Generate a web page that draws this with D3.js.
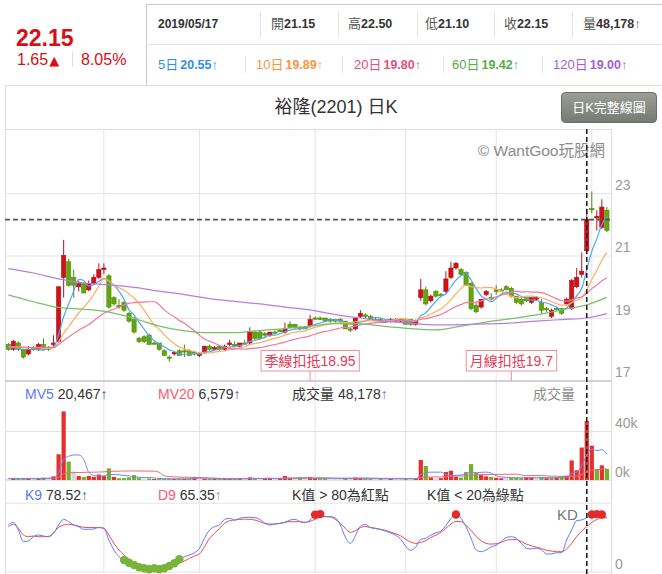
<!DOCTYPE html>
<html>
<head>
<meta charset="utf-8">
<script src="https://cdn.jsdelivr.net/npm/d3@7"></script>
<style>
  body { margin: 0; background: #fff; }
  svg text { font-family: "Liberation Sans", Arial, "Noto Sans CJK TC", sans-serif; }
</style>
</head>
<body>
<svg id="chart" width="662" height="574"></svg>
<script>
// ---- data (120 trading days, last hovered day = index 115) ----
let openP = [18.15,18.00,18.20,18.00,17.85,18.05,18.00,18.15,18.05,18.15,
  18.25,20.30,20.80,20.30,20.00,20.10,19.90,20.10,20.30,20.55,
  20.35,19.65,19.40,19.50,19.15,18.95,18.35,18.40,18.45,18.20,
  18.20,17.95,17.75,17.85,17.95,17.95,17.95,17.90,17.80,17.90,
  18.10,18.00,18.10,18.00,18.15,18.15,18.10,18.20,18.20,18.55,
  18.55,18.50,18.45,18.55,18.60,18.55,18.80,18.80,18.70,18.70,
  18.75,19.00,19.00,19.00,18.95,18.95,18.95,18.90,18.65,18.65,
  19.05,19.10,19.05,18.95,18.95,18.90,18.90,18.90,18.90,18.95,
  18.95,18.80,19.65,19.90,19.55,19.85,19.75,19.85,20.30,20.60,
  20.55,20.45,20.10,19.40,19.35,19.75,19.65,19.90,19.90,20.00,
  19.95,19.70,19.60,19.65,19.50,19.60,19.50,19.30,19.05,19.30,
  19.30,19.45,19.30,20.00,20.40,21.15,22.50,22.20,21.90,22.45]
let highP = [18.20,18.30,18.25,18.00,18.10,18.10,18.20,18.35,18.10,18.45,
  20.00,21.50,20.90,20.55,20.20,20.15,20.20,20.40,20.75,20.75,
  20.40,19.70,19.60,19.55,19.20,19.05,18.40,18.45,18.50,18.25,
  18.20,18.00,17.80,17.95,18.00,18.15,18.00,17.95,17.90,18.10,
  18.15,18.10,18.10,18.15,18.30,18.25,18.20,18.30,18.70,18.60,
  18.60,18.55,18.55,18.60,18.65,18.85,18.90,18.80,18.75,18.75,
  19.10,19.05,19.05,19.00,19.00,18.95,19.00,18.90,18.70,19.00,
  19.25,19.15,19.10,19.00,19.00,18.95,19.00,19.00,19.00,19.00,
  18.95,18.95,20.25,20.00,19.75,19.90,19.80,20.50,20.80,20.80,
  20.60,20.50,20.15,19.50,19.60,19.90,19.80,20.05,19.95,20.05,
  20.00,19.70,19.65,19.65,19.65,19.70,19.60,19.35,19.30,19.35,
  19.30,19.65,20.25,20.60,21.10,22.50,23.05,22.45,22.80,22.55]
let lowP = [17.95,17.95,17.95,17.70,17.80,17.95,17.95,17.95,17.95,18.05,
  18.20,19.65,20.00,19.65,19.85,19.80,19.85,20.05,20.25,20.40,
  19.30,19.40,19.30,19.20,18.85,18.50,18.20,18.20,18.15,18.15,
  17.95,17.80,17.60,17.80,17.80,17.75,17.80,17.80,17.75,17.85,
  17.95,17.95,17.95,17.95,18.10,18.05,18.05,18.15,18.15,18.30,
  18.30,18.40,18.40,18.50,18.55,18.50,18.70,18.65,18.60,18.65,
  18.70,18.95,18.95,18.90,18.85,18.85,18.85,18.65,18.55,18.60,
  19.00,19.00,18.95,18.90,18.85,18.85,18.85,18.85,18.85,18.80,
  18.75,18.75,19.55,19.40,19.50,19.65,19.65,19.80,20.25,20.55,
  20.35,20.05,19.25,19.15,19.30,19.70,19.55,19.75,19.85,19.90,
  19.65,19.45,19.40,19.50,19.45,19.55,19.15,19.20,19.00,19.25,
  19.10,19.40,19.25,19.95,20.30,21.10,22.35,21.80,21.85,21.75]
let closeP = [18.00,18.25,18.00,17.75,18.00,18.00,18.15,18.00,18.00,18.20,
  20.00,21.00,20.05,20.05,20.10,19.80,20.10,20.30,20.55,20.60,
  19.35,19.45,19.35,19.25,18.90,18.55,18.25,18.25,18.15,18.20,
  18.00,17.80,17.75,17.90,17.80,17.95,17.80,17.85,17.85,18.10,
  18.00,18.05,18.00,18.10,18.20,18.10,18.20,18.20,18.55,18.35,
  18.35,18.45,18.55,18.55,18.60,18.65,18.70,18.70,18.65,18.65,
  18.95,19.00,18.95,18.90,18.90,18.90,18.90,18.65,18.65,19.00,
  19.15,19.05,18.95,18.95,18.90,18.90,18.95,18.95,18.95,18.80,
  18.80,18.90,19.90,19.45,19.70,19.70,19.75,20.25,20.60,20.75,
  20.40,20.05,19.30,19.20,19.60,19.85,19.65,19.85,19.90,19.90,
  19.70,19.50,19.45,19.55,19.65,19.65,19.25,19.30,19.25,19.30,
  19.15,19.60,20.20,20.30,20.50,22.15,22.50,22.25,22.55,21.80]

let ma5 = [18.05,18.05,18.03,18.00,18.00,18.00,17.98,17.98,18.03,18.07,
  18.47,19.04,19.45,19.86,20.24,20.20,20.02,20.07,20.17,20.27,
  20.18,20.05,19.86,19.60,19.26,19.10,18.86,18.64,18.42,18.28,
  18.17,18.08,17.98,17.93,17.85,17.84,17.84,17.86,17.85,17.91,
  17.92,17.97,18.00,18.05,18.07,18.09,18.12,18.16,18.25,18.28,
  18.33,18.38,18.45,18.45,18.50,18.56,18.61,18.64,18.66,18.67,
  18.73,18.79,18.84,18.89,18.94,18.93,18.91,18.85,18.80,18.82,
  18.87,18.90,18.96,19.02,19.00,18.95,18.93,18.93,18.93,18.91,
  18.89,18.88,19.07,19.17,19.35,19.53,19.70,19.77,20.00,20.21,
  20.35,20.41,20.22,19.94,19.71,19.60,19.52,19.63,19.77,19.83,
  19.80,19.77,19.69,19.62,19.57,19.56,19.51,19.48,19.42,19.35,
  19.25,19.32,19.50,19.71,19.95,20.55,21.13,21.54,21.99,22.25]
let ma10 = [18.08,18.08,18.07,18.06,18.05,18.05,18.04,18.03,18.03,18.04,
  18.24,18.51,18.72,18.95,19.16,19.34,19.53,19.76,20.02,20.26,
  20.19,20.04,19.97,19.89,19.77,19.64,19.46,19.25,19.01,18.77,
  18.64,18.47,18.31,18.18,18.07,18.01,17.96,17.92,17.89,17.88,
  17.88,17.91,17.93,17.95,17.99,18.01,18.05,18.08,18.15,18.18,
  18.21,18.25,18.31,18.35,18.39,18.45,18.50,18.55,18.56,18.59,
  18.65,18.70,18.74,18.78,18.81,18.83,18.85,18.85,18.85,18.88,
  18.90,18.91,18.91,18.91,18.91,18.91,18.92,18.95,18.98,18.96,
  18.92,18.91,19.00,19.05,19.13,19.21,19.29,19.42,19.59,19.78,
  19.94,20.06,20.00,19.97,19.96,19.98,19.97,19.93,19.86,19.77,
  19.70,19.65,19.66,19.70,19.70,19.68,19.64,19.59,19.52,19.46,
  19.41,19.42,19.49,19.57,19.65,19.90,20.23,20.52,20.85,21.10]
let ma20 = [18.08,18.08,18.07,18.07,18.06,18.06,18.06,18.06,18.06,18.06,
  18.15,18.28,18.39,18.50,18.61,18.70,18.79,18.91,19.04,19.15,
  19.22,19.28,19.35,19.42,19.47,19.49,19.50,19.51,19.52,19.52,
  19.42,19.26,19.14,19.04,18.92,18.83,18.71,18.59,18.45,18.33,
  18.26,18.19,18.12,18.07,18.03,18.01,18.01,18.00,18.02,18.03,
  18.05,18.08,18.12,18.15,18.19,18.23,18.28,18.32,18.36,18.39,
  18.43,18.48,18.53,18.57,18.60,18.64,18.68,18.70,18.71,18.74,
  18.78,18.81,18.83,18.85,18.86,18.87,18.89,18.90,18.92,18.92,
  18.91,18.91,18.96,18.98,19.02,19.06,19.11,19.19,19.29,19.37,
  19.43,19.49,19.50,19.51,19.55,19.60,19.63,19.68,19.73,19.78,
  19.82,19.86,19.83,19.84,19.83,19.83,19.81,19.76,19.69,19.62,
  19.56,19.54,19.58,19.64,19.68,19.79,19.94,20.06,20.19,20.28]
// [day index, value]
let ma60 = [[0,19.74],[5,19.52],[10,19.34],[15,19.28],[20,19.19],[25,18.99],[30,18.74],
  [35,18.59],[40,18.53],[45,18.53],[50,18.60],[55,18.66],[60,18.74],[65,18.82],[70,18.81],
  [75,18.73],[80,18.66],[85,18.62],[90,18.74],[95,18.87],[100,18.98],[105,19.10],[110,19.26],
  [115,19.42],[119,19.66]]
let ma120 = [[0,20.58],[5,20.44],[10,20.25],[15,20.12],[20,20.06],[25,19.98],[30,19.86],
  [35,19.75],[40,19.62],[45,19.53],[50,19.45],[55,19.35],[60,19.26],[65,19.11],[70,19.00],
  [75,18.90],[80,18.83],[85,18.78],[90,18.79],[95,18.81],[100,18.84],[105,18.90],[110,18.95],
  [115,19.00],[119,19.14]]

let volume = [1000,1500,1000,1200,1000,800,1000,2000,2000,3000,
  21000,56000,15000,7000,3300,2500,3300,2500,4500,3300,
  9500,2500,1500,1500,2200,4000,1500,1200,1200,800,
  1200,1000,1000,800,1000,1000,1200,2500,2000,1000,
  1000,800,800,800,1000,1500,800,1200,2200,1200,
  1000,1500,1500,1000,1000,3300,1500,1200,2000,1500,
  2500,1500,1500,1500,1200,1000,1000,1500,1200,2000,
  1500,1000,1000,1000,1000,1000,1000,1000,1000,1000,
  1000,1200,16300,11400,2000,1000,1500,6500,7600,2700,
  2000,6500,13000,5700,4000,3000,2500,1800,1500,2000,
  2000,2000,1500,2500,2000,1500,2500,1500,2000,2000,
  3000,3500,16000,8000,26500,48178,28000,9000,12000,9000]
let mv5 = [1300,1300,1250,1200,1140,1100,1000,1200,1360,1760,
  5800,16800,19400,20400,20460,16760,6220,3720,3220,3220,
  4620,4460,4260,3660,3440,2340,2140,2080,2020,1740,
  1180,1080,1040,960,1000,960,1000,1300,1540,1540,
  1540,1460,1120,880,880,980,980,1060,1340,1380,
  1280,1420,1480,1240,1200,1660,1660,1600,1800,1900,
  1740,1740,1800,1700,1640,1340,1240,1240,1180,1340,
  1440,1440,1340,1300,1100,1000,1000,1000,1000,1000,
  1000,1040,4100,6180,6380,6380,6440,4480,3720,3860,
  4060,5060,6360,5980,6240,6440,5640,3400,2560,2160,
  1960,1860,1800,2000,2000,1900,2000,2000,1900,1900,
  2200,2400,5300,6500,11400,20467,25340,23940,24740,21240]
let mv20 = [[0,1190],[9,1330],[10,2300],[11,5060],[12,5750],[13,6040],[16,6310],[19,6650],
  [20,7070],[25,7380],[29,7220],[30,6230],[31,3480],[32,2780],[35,2280],[39,1930],[40,1500],
  [45,1170],[50,1190],[55,1370],[60,1420],[65,1500],[70,1550],[75,1380],[81,1180],[82,1920],
  [83,2420],[86,2480],[88,3050],[91,3390],[92,3990],[95,4470],[101,4750],[102,4010],[103,3570],
  [106,3640],[108,3110],[111,2980],[113,3240],[114,4370],[115,6579],[116,7900],[117,8260],
  [118,8780],[119,9130]]

let kVal = [67.7,71.6,60.4,43.5,44.5,50.7,53.2,51.7,50.7,55.6,
  67.7,75.9,72.5,67.7,65.2,61.4,61.4,62,64.3,63,
  45.9,31.4,21.7,17,13,9.7,6.4,4.9,3.5,4.9,
  3.5,4.9,8.3,12.2,18,21.7,24.2,27.5,33.9,48.4,
  60.4,65.2,67.7,75.9,77.4,74.9,77.4,78.8,78.8,78.4,
  75.9,70.1,67.7,69.1,70.1,71.6,74.9,75.9,72.5,71,
  75,82.5,83.5,79.8,79.7,78,68,50,41,52,
  66,68.5,64,62.5,61,59,56,53,47,37,
  31,36,47,48.5,53,56.5,59,67,77,83,
  77.5,65,48.5,31.5,29,31.5,36,38.5,43.5,49.5,
  50.7,48.5,41,34,33,34,31.5,25.7,25.7,27.5,
  27.5,46,60.4,74,75,78.52,83,83.5,83,78]
let dVal = [65.2,68.7,63,53.2,50.7,51.7,50.7,50.7,51.2,56.6,
  64.3,67.7,68.7,67.7,66,64.3,64,64,63.8,62.8,
  53.2,41.1,31.4,24.2,18,13,9.7,7.3,6,4.9,
  4.5,4.9,5.8,8.3,12.2,15.5,19.4,22.8,25.7,36.2,
  48.4,55.6,63,70.1,73.9,74.9,75.9,76.2,75.9,74.9,
  72.5,70.1,69.1,69.1,70.1,71.6,72.5,72.5,72.5,71.6,
  73,76,79,80,79.5,76,70,63,57,59.5,
  64,65.5,64,63,61.5,60,57.5,55,52,47,
  43,41,42.5,45,49.5,53,57,63,69,73,
  72.5,67,60,51,45,41,40,40.5,42.5,45.5,
  46.5,46.5,43.5,40,37.5,35.5,33.5,31,30,29,
  29,33,41,51,59,65.35,71.5,75.5,78,78]

let priceTicks = [17, 19, 21, 23]
let volTicks = [0, 40000]
let kdTicks = [0, 100]
let gridDays = [19, 38, 61, 79, 97, 116]
let hoverDay = 115
let deductions = [{ day: 60, label: '季線扣抵18.95' }, { day: 100, label: '月線扣抵19.7' }]

let quoteDate = '2019/05/17'
let quoteLabels = ['開', '高', '低', '收', '量']
let quoteValues = ['21.15', '22.50', '21.10', '22.15', '48,178']
let maLabels = ['5日', '10日', '20日', '60日', '120日']
let maValues = ['20.55', '19.89', '19.80', '19.42', '19.00']
// ---------------------------------------------------------------------

let red = '#d60f16', green = '#62a60c'
let maText = ['#2f8fe8', '#f7963c', '#ea4d7b', '#55ad45', '#a45dd8']
let maLine = ['#4fa6f0', '#fdae5c', '#f2769e', '#78c16a', '#b67de2']
let gridColor = '#e4e4e4'

const svg = d3.select('#chart')
const n = closeP.length
const plotLeft = 5, plotRight = 611
const plotTop = 129, mainBottom = 381

let x = d3.scaleBand()
    .domain(d3.range(n))
    .range([5.8, 609.4])
    .paddingInner(0.16)
    .paddingOuter(0.08)
let cx = i => x(i) + x.bandwidth() / 2

let y = d3.scaleLinear().domain([17, 23]).range([380.5, 193])
let yv = d3.scaleLinear().domain([0, 40000]).range([480, 431])
let yk = d3.scaleLinear().domain([0, 100]).range([571.7, 502.7])

// ---------- header ----------
let head = svg.append('g')
head.append('line').attr('x1', 146).attr('x2', 662).attr('y1', 4.5).attr('y2', 4.5).attr('stroke', '#c8c8c8')
head.append('line').attr('x1', 146.5).attr('x2', 146.5).attr('y1', 4.5).attr('y2', 85).attr('stroke', '#c8c8c8')
head.append('line').attr('x1', 146).attr('x2', 662).attr('y1', 44.5).attr('y2', 44.5).attr('stroke', '#e6e6e6')

head.append('text').attr('x', 16).attr('y', 46)
    .attr('fill', red).style('font-size', '23px').style('font-weight', 'bold').text('22.15')
let chg = head.append('text').attr('x', 17).attr('y', 65).attr('fill', red).style('font-size', '16px')
chg.append('tspan').text('1.65')
chg.append('tspan').style('font-family', 'DejaVu Sans').style('font-size', '13px').attr('dx', 1).text('▲')
head.append('line').attr('x1', 72.5).attr('x2', 72.5).attr('y1', 52).attr('y2', 67).attr('stroke', '#ddd')
head.append('text').attr('x', 81).attr('y', 65).attr('fill', red).style('font-size', '16px').text('8.05%')

let quoteX = [271, 348, 425, 504, 583]
head.append('text').attr('x', 158).attr('y', 28).attr('fill', '#333')
    .style('font-size', '12px').style('font-weight', 'bold').text(quoteDate)
quoteLabels.forEach((lab, k) => {
  let t = head.append('text').attr('x', quoteX[k]).attr('y', 28).attr('fill', '#333')
  t.append('tspan').style('font-size', '13px').attr('fill', '#555').text(lab)
  t.append('tspan').style('font-size', '12.5px').style('font-weight', 'bold').text(quoteValues[k])
  if (lab === '量') t.append('tspan').style('font-size', '13px').attr('fill', '#5a63c8').text('↑')
})
for (let sx of [260, 338, 417, 494, 572])
  head.append('line').attr('x1', sx + 0.5).attr('x2', sx + 0.5).attr('y1', 12).attr('y2', 37).attr('stroke', '#e3e3e3')

let maX = [158, 256, 354, 452, 553]
maLabels.forEach((lab, k) => {
  let t = head.append('text').attr('x', maX[k]).attr('y', 68.5).attr('fill', maText[k])
  t.append('tspan').style('font-size', '13px').text(lab)
  t.append('tspan').style('font-size', '12.5px').style('font-weight', 'bold').attr('dx', 2).text(maValues[k])
  t.append('tspan').style('font-size', '13px').text('↑')
})
for (let sx of [245, 342, 443, 542])
  head.append('line').attr('x1', sx + 0.5).attr('x2', sx + 0.5).attr('y1', 56).attr('y2', 73).attr('stroke', '#e3e3e3')

// ---------- frame, title, button ----------
svg.append('line').attr('x1', plotLeft).attr('x2', 662).attr('y1', 85.5).attr('y2', 85.5).attr('stroke', '#dcdcdc')
svg.append('line').attr('x1', plotLeft + 0.5).attr('x2', plotLeft + 0.5).attr('y1', 85).attr('y2', 574).attr('stroke', '#dcdcdc')

svg.append('text').attr('x', 336).attr('y', 113).attr('text-anchor', 'middle')
    .attr('fill', '#333').style('font-size', '18px').text('裕隆(2201) 日K')

let grad = svg.append('defs').append('linearGradient').attr('id', 'btn').attr('x1', 0).attr('x2', 0).attr('y1', 0).attr('y2', 1)
grad.append('stop').attr('offset', 0).attr('stop-color', '#9c9e98')
grad.append('stop').attr('offset', 1).attr('stop-color', '#777a73')
svg.append('rect').attr('x', 561.5).attr('y', 92.5).attr('width', 95).attr('height', 30).attr('rx', 4)
    .attr('fill', 'url(#btn)').attr('stroke', '#6b6d68')
svg.append('text').attr('x', 609).attr('y', 112).attr('text-anchor', 'middle')
    .attr('fill', '#fff').style('font-size', '13px').text('日K完整線圖')

// ---------- grid ----------
svg.append('line').attr('x1', plotLeft).attr('x2', plotRight).attr('y1', plotTop + 0.5).attr('y2', plotTop + 0.5).attr('stroke', '#dcdcdc')
svg.append('line').attr('x1', plotRight + 0.5).attr('x2', plotRight + 0.5).attr('y1', plotTop).attr('y2', 574).attr('stroke', '#dcdcdc')

svg.append('g')
    .attr('transform', `translate(0,${plotTop})`)
    .call(d3.axisTop(x).tickValues(gridDays).tickSize(-(572 - plotTop)).tickFormat(''))
    .call(g => g.select('.domain').remove())
    .call(g => g.selectAll('line').attr('stroke', gridColor))

function rightAxis(scale, ticks, fmt) {
  return g => g
    .attr('transform', `translate(${plotRight},0)`)
    .call(d3.axisRight(scale).tickValues(ticks).tickSize(-(plotRight - plotLeft)).tickPadding(4).tickFormat(fmt))
    .call(g => g.select('.domain').remove())
    .call(g => g.selectAll('line').attr('stroke', gridColor))
    .call(g => g.selectAll('text').attr('fill', '#9a9a9a').attr('dy', '-0.26em')
      .style('font-size', '14px').style('font-family', '"Liberation Sans", Arial, sans-serif'))
}
svg.append('g').call(rightAxis(y, priceTicks, d => d))
svg.append('g').call(rightAxis(yv, volTicks, d => d / 1000 + 'k'))
svg.append('g').call(rightAxis(yk, kdTicks, d => d === 0 ? '0' : ''))

svg.append('line').attr('x1', plotLeft).attr('x2', plotRight).attr('y1', mainBottom).attr('y2', mainBottom)
    .attr('stroke', '#c9c9c9').attr('stroke-width', 1.5)

// watermark
svg.append('text').attr('x', 605).attr('y', 156).attr('text-anchor', 'end')
    .attr('fill', '#8a8a8a').style('font-size', '15.5px').text('© WantGoo玩股網')

// ---------- candles ----------
svg.append('clipPath').attr('id', 'clipMain')
  .append('rect').attr('x', plotLeft).attr('y', plotTop).attr('width', plotRight - plotLeft).attr('height', mainBottom - plotTop)
let main = svg.append('g').attr('clip-path', 'url(#clipMain)')

let isUp = i => closeP[i] > openP[i]
let days = d3.range(n)

main.append('g').selectAll('line').data(days).join('line')
    .attr('x1', i => cx(i)).attr('x2', i => cx(i))
    .attr('y1', i => y(highP[i])).attr('y2', i => y(lowP[i]))
    .attr('stroke', i => isUp(i) ? '#b3141a' : '#4f8a08')
    .attr('stroke-width', 1)

main.append('g').selectAll('rect').data(days).join('rect')
    .attr('x', i => x(i)).attr('width', x.bandwidth())
    .attr('y', i => y(Math.max(openP[i], closeP[i])))
    .attr('height', i => Math.max(1.2, Math.abs(y(openP[i]) - y(closeP[i]))))
    .attr('fill', i => isUp(i) ? red : green)
    .attr('stroke', i => isUp(i) ? '#a5121a' : '#4d8806')
    .attr('stroke-width', 0.6)

let maLineGen = d3.line().x(d => cx(d[0])).y(d => y(d[1])).curve(d3.curveMonotoneX)
let maSeries = [ma5.map((v, i) => [i, v]), ma10.map((v, i) => [i, v]), ma20.map((v, i) => [i, v]), ma60, ma120]
main.append('g').selectAll('path').data(maSeries).join('path')
    .attr('d', maLineGen)
    .attr('fill', 'none')
    .attr('stroke', (d, k) => maLine[k])
    .attr('stroke-width', 1.2)

// deduction markers
let ded = svg.append('g').selectAll('g').data(deductions).join('g')
ded.append('line')
    .attr('x1', d => cx(d.day)).attr('x2', d => cx(d.day))
    .attr('y1', 371).attr('y2', mainBottom)
    .attr('stroke', '#ef8a9c')
ded.append('text')
    .attr('x', d => cx(d.day)).attr('y', 366).attr('text-anchor', 'middle')
    .attr('fill', '#e6385a').style('font-size', '14px')
    .text(d => d.label)
ded.each(function () {
  let g = d3.select(this), b = g.select('text').node().getBBox()
  g.insert('rect', 'text')
    .attr('x', b.x - 3.5).attr('y', 350.5).attr('width', b.width + 7).attr('height', 20.5)
    .attr('fill', '#fff').attr('stroke', '#f0909f')
})

// last-close dashed level
svg.append('line').attr('x1', plotLeft).attr('x2', plotRight)
    .attr('y1', y(closeP[hoverDay])).attr('y2', y(closeP[hoverDay]))
    .attr('stroke', '#555').attr('stroke-width', 1.8).attr('stroke-dasharray', '5,3')

// ---------- volume ----------
let volColor = i => i === 0 || closeP[i] === closeP[i - 1] ? '#d8d8d8' : closeP[i] > closeP[i - 1] ? '#e5302e' : '#72b12c'
svg.append('g').selectAll('rect').data(days).join('rect')
    .attr('x', i => x(i)).attr('width', x.bandwidth())
    .attr('y', i => yv(volume[i])).attr('height', i => yv(0) - yv(volume[i]))
    .attr('fill', volColor)

let volLine = d3.line().x(d => cx(d[0])).y(d => yv(d[1])).curve(d3.curveMonotoneX)
svg.append('path').datum(mv20).attr('d', volLine)
    .attr('fill', 'none').attr('stroke', '#f06a6a').attr('stroke-width', 1)
svg.append('path').datum(mv5.map((v, i) => [i, v])).attr('d', volLine)
    .attr('fill', 'none').attr('stroke', '#6f86ff').attr('stroke-width', 1)

// ---------- KD ----------
let kdLine = d3.line().x(d => cx(d[0])).y(d => yk(d[1])).curve(d3.curveMonotoneX)
svg.append('path').datum(dVal.map((v, i) => [i, v])).attr('d', kdLine)
    .attr('fill', 'none').attr('stroke', '#f04a4a').attr('stroke-width', 1)
svg.append('path').datum(kVal.map((v, i) => [i, v])).attr('d', kdLine)
    .attr('fill', 'none').attr('stroke', '#5b7cff').attr('stroke-width', 1)

svg.append('g').selectAll('circle').data(days.filter(i => kVal[i] > 80 || kVal[i] < 20)).join('circle')
    .attr('cx', i => cx(i)).attr('cy', i => yk(kVal[i])).attr('r', 4.2)
    .attr('fill', i => kVal[i] > 80 ? '#e32b2b' : '#79b33a')

// hover crosshair
svg.append('line').attr('x1', cx(hoverDay)).attr('x2', cx(hoverDay)).attr('y1', plotTop).attr('y2', 574)
    .attr('stroke', '#1a1a1a').attr('stroke-width', 1.5).attr('stroke-dasharray', '5,3')

// ---------- panel captions ----------
function caption(xPos, yPos, parts) {
  let t = svg.append('text').attr('x', xPos).attr('y', yPos).style('font-size', '14px')
  for (let p of parts) t.append('tspan').attr('fill', p[1]).text(p[0])
}
caption(25, 399, [['MV5', '#5b78ff'], [' 20,467', '#333'], ['↑', '#4b4f9a']])
caption(158, 399, [['MV20', '#ff5a6e'], [' 6,579', '#333'], ['↑', '#4b4f9a']])
caption(292, 399, [['成交量 48,178', '#333'], ['↑', '#8a5ad0']])
caption(533, 399, [['成交量', '#8c8c8c']])

caption(25, 500, [['K9', '#5b78ff'], [' 78.52', '#333'], ['↑', '#4b5fd0']])
caption(158, 500, [['D9', '#ff5a6e'], [' 65.35', '#333'], ['↑', '#e0803a']])
caption(292, 500, [['K值 > 80為紅點', '#333']])
caption(427, 500, [['K值 < 20為綠點', '#333']])
svg.append('text').attr('x', 557).attr('y', 520).attr('fill', '#777').style('font-size', '15px').text('KD')
</script>
</body>
</html>
